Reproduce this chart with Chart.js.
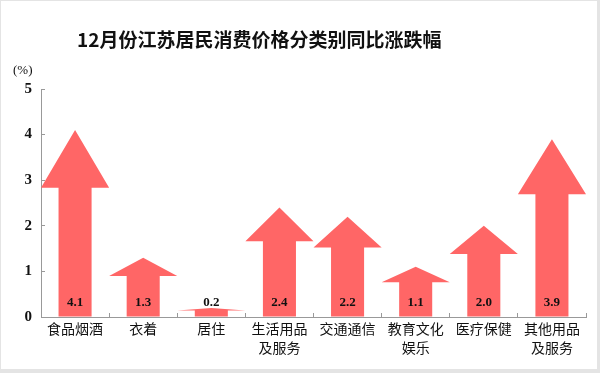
<!DOCTYPE html>
<html>
<head>
<meta charset="utf-8">
<script src="https://cdn.jsdelivr.net/npm/chart.js"></script>
<style>
  body { margin: 0; background: #e4e4e4; width: 600px; height: 373px; overflow: hidden; }
  #box { position: absolute; left: 1px; top: 1px; width: 596px; height: 368px; background: #fff; }
  #title { position: absolute; left: 76px; top: 25px; font: bold 19px "Noto Sans CJK SC"; color: #111; white-space: nowrap; line-height: 26px; }
  #unit { position: absolute; left: 12px; top: 61px; font: 13px "Liberation Serif"; color: #111; }
  canvas { position: absolute; left: 0; top: 0; }
</style>
</head>
<body>
<div id="box">
  <canvas id="chart" width="596" height="368"></canvas>
  <div id="title">12月份江苏居民消费价格分类别同比涨跌幅</div>
  <div id="unit">(%)</div>
</div>
<script>
// 분류 및 값
const categories = ['食品烟酒', '衣着', '居住', ['生活用品', '及服务'], '交通通信', ['教育文化', '娱乐'], '医疗保健', ['其他用品', '及服务']];
const values = [4.1, 1.3, 0.2, 2.4, 2.2, 1.1, 2.0, 3.9];
const yTicks = [0, 1, 2, 3, 4, 5];

const arrowColor = '#ff6666';

// 화살표 그리기
const arrowPlugin = {
    id: 'arrows',
    afterDatasetsDraw(chart) {
        const ctx = chart.ctx;
        const meta = chart.getDatasetMeta(0);
        ctx.save();
        meta.data.forEach((bar, i) => {
            const { x, y, base, width } = bar.getProps(['x', 'y', 'base', 'width'], true);
            const len = base - y;
            const head = len * 0.31;
            const shaft = width * 0.485;
            const hw = width / 2;
            ctx.fillStyle = arrowColor;
            ctx.beginPath();
            ctx.moveTo(x - shaft / 2, base);
            ctx.lineTo(x - shaft / 2, y + head);
            ctx.lineTo(x - hw, y + head);
            ctx.lineTo(x, y);
            ctx.lineTo(x + hw, y + head);
            ctx.lineTo(x + shaft / 2, y + head);
            ctx.lineTo(x + shaft / 2, base);
            ctx.closePath();
            ctx.fill();

            // 값 라벨
            ctx.fillStyle = '#111';
            ctx.font = 'bold 13px "Liberation Serif"';
            ctx.textAlign = 'center';
            ctx.textBaseline = 'middle';
            ctx.fillText(values[i].toFixed(1), x, base - 14);
        });
        ctx.restore();
    }
};

new Chart(document.getElementById('chart'), {
    type: 'bar',
    data: {
        labels: categories,
        datasets: [{
            data: values,
            backgroundColor: 'rgba(0,0,0,0)',
            categoryPercentage: 1,
            barPercentage: 1
        }]
    },
    options: {
        responsive: false,
        animation: false,
        layout: { padding: { top: 88, right: 11, left: 0, bottom: 0 } },
        plugins: {
            legend: { display: false },
            tooltip: { enabled: false }
        },
        scales: {
            x: {
                offset: true,
                grid: { offset: true, drawOnChartArea: false, tickLength: -4, color: '#999' },
                border: { color: '#999' },
                ticks: {
                    padding: 7,
                    color: '#111',
                    maxRotation: 0,
                    autoSkip: false,
                    font: { family: '"Noto Sans CJK SC"', size: 14, lineHeight: 1.3 }
                },
                afterFit(scale) { scale.height = 52; }
            },
            y: {
                min: 0,
                max: 5,
                afterBuildTicks(scale) { scale.ticks = yTicks.map(v => ({ value: v })); },
                grid: { drawOnChartArea: false, tickLength: -4, color: '#999' },
                border: { color: '#999' },
                ticks: {
                    padding: 13,
                    color: '#111',
                    font: { family: '"Liberation Serif"', size: 15, weight: 'bold' }
                },
                afterFit(scale) { scale.width = 40; }
            }
        }
    },
    plugins: [arrowPlugin]
});
</script>
</body>
</html>
